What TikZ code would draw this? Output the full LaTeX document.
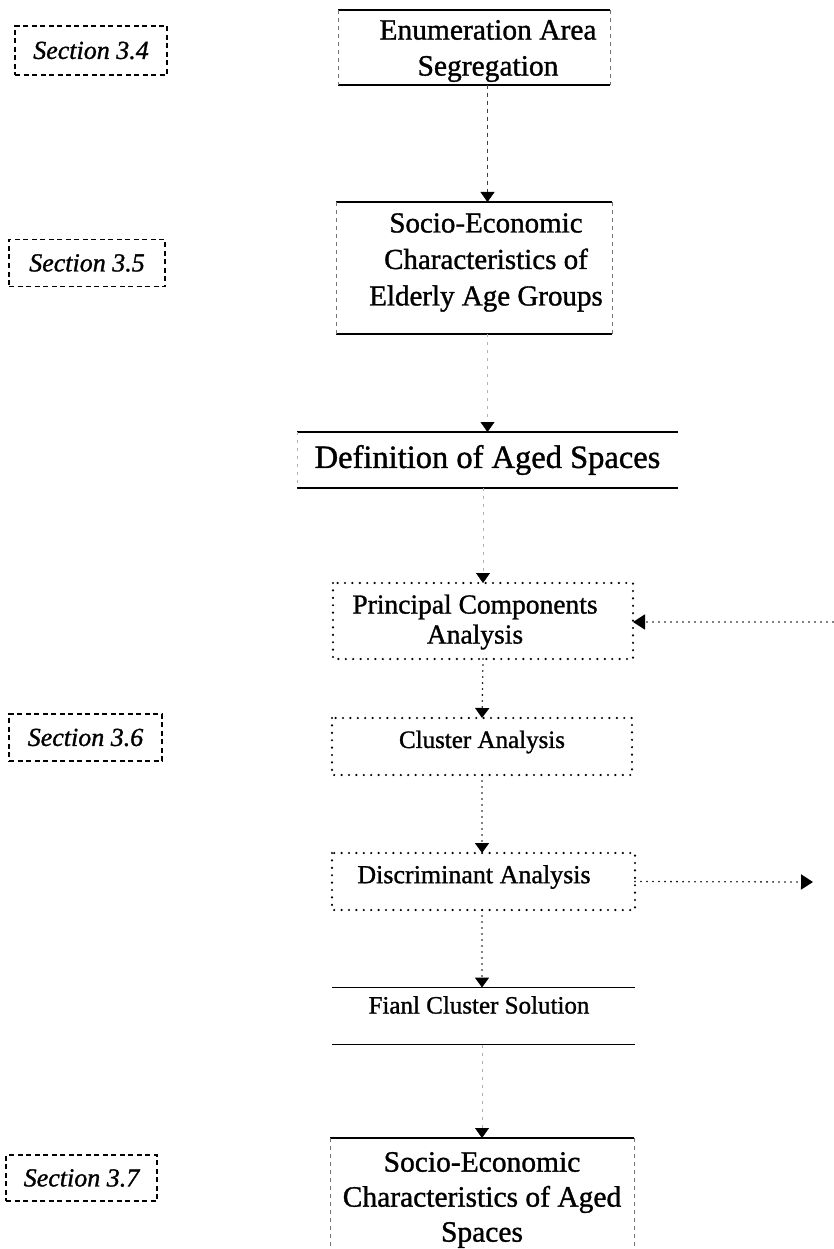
\documentclass[tikz,border=0pt]{standalone}
\usepackage{fontspec}
\setmainfont{Liberation Serif}[FakeBold=1.1]
\usetikzlibrary{arrows.meta}
\begin{document}
\begin{tikzpicture}[x=1pt,y=-1pt,
  shape box/.style={draw=none, inner sep=0pt, outer sep=0pt},
  txt/.style={inner sep=0pt, align=center, text=black},
  solidedge/.style={line width=1.4pt, black},
  faintside/.style={line width=0.5pt, black!55, dash pattern=on 4pt off 4pt},
  veryfaint/.style={line width=0.4pt, black!30, dash pattern=on 3pt off 5pt},
  dotbox/.style={line width=2.4pt, line cap=round, dash pattern=on 0pt off 7.4pt},
  dotline/.style={line width=1.8pt, line cap=round, dash pattern=on 0pt off 6pt},
  secbox/.style={draw, line width=1.5pt, dash pattern=on 5pt off 3.5pt, inner sep=0pt,
    font=\fontsize{26}{30}\selectfont\itshape},
  tip/.style={-{Triangle[length=10pt,width=14pt,color=black]}},
  tipdot/.style={-{Triangle[length=12pt,width=15pt,color=black]}},
]
\useasboundingbox (0,0) rectangle (833,1249);
\fill[white] (0,0) rectangle (833,1249);

% section labels
\node[secbox, minimum width=152, minimum height=49] (s34) at (91,50.5) {Section 3.4};
\node[secbox, minimum width=156, minimum height=47] (s35) at (87,263) {Section 3.5};
\node[secbox, minimum width=153, minimum height=47] (s36) at (85.5,737.5) {Section 3.6};
\node[secbox, minimum width=151, minimum height=46] (s37) at (81.5,1178) {Section 3.7};

% boxes (shapes)
\node[shape box, minimum width=272, minimum height=75] (enum) at (474,47.5) {};
\node[shape box, minimum width=276, minimum height=132] (socio) at (474,268) {};
\node[shape box, minimum width=381, minimum height=56] (def) at (487.5,460) {};
\node[shape box, minimum width=300, minimum height=76] (pca) at (483,621) {};
\node[shape box, minimum width=300, minimum height=57] (clus) at (482,746.5) {};
\node[shape box, minimum width=303, minimum height=57] (disc) at (483.5,881.5) {};
\node[shape box, minimum width=303, minimum height=57] (final) at (483.5,1016) {};
\node[shape box, minimum width=304, minimum height=140] (last) at (482,1208) {};

% texts
\node[txt, font=\fontsize{29.5}{36}\selectfont] (enumT) at (488,51) {Enumeration Area\\Segregation};
\node[txt, font=\fontsize{29}{36.5}\selectfont] (socioT) at (486,262.5) {Socio-Economic\\Characteristics of\\Elderly Age Groups};
\node[txt, font=\fontsize{32.5}{36}\selectfont] (defT) at (487.5,460) {Definition of Aged Spaces};
\node[txt, font=\fontsize{27.5}{30}\selectfont] (pcaT) at (475,622) {Principal Components\\Analysis};
\node[txt, font=\fontsize{25}{30}\selectfont] (clusT) at (482,742) {Cluster Analysis};
\node[txt, font=\fontsize{26}{30}\selectfont] (discT) at (474,877) {Discriminant Analysis};
\node[txt, font=\fontsize{25}{30}\selectfont] (finalT) at (479,1005) {Fianl Cluster Solution};
\node[txt, font=\fontsize{29.5}{35}\selectfont] (lastT) at (482,1200) {Socio-Economic\\Characteristics of Aged\\Spaces};

% box borders
\draw[solidedge] (enum.north west) -- (enum.north east);
\draw[solidedge] (enum.south west) -- (enum.south east);
\draw[faintside] (enum.north west) -- (enum.south west);
\draw[faintside] (enum.north east) -- (enum.south east);

\draw[solidedge] (socio.north west) -- (socio.north east);
\draw[solidedge] (socio.south west) -- (socio.south east);
\draw[faintside] (socio.north west) -- (socio.south west);
\draw[faintside] (socio.north east) -- (socio.south east);

\draw[solidedge] (def.north west) -- (def.north east);
\draw[solidedge] (def.south west) -- (def.south east);
\draw[veryfaint] (def.north west) -- (def.south west);

\draw[dotbox] (pca.north west) rectangle (pca.south east);
\draw[dotbox] (clus.north west) rectangle (clus.south east);
\draw[dotbox] (disc.north west) rectangle (disc.south east);

\draw[solidedge] (final.north west) -- (final.north east);
\draw[solidedge] (final.south west) -- (final.south east);

\draw[solidedge] (last.north west) -- (last.north east);
\draw[faintside] (last.north west) -- (last.south west);
\draw[faintside] (last.north east) -- (last.south east);

% connectors
\coordinate (pcaIn) at (833,622);
\coordinate (discOut) at (813,882);
\draw[faintside, black!75, tip] (enum.south -| def.north) -- (socio.north -| def.north);
\draw[veryfaint, tip] (socio.south -| def.north) -- (def.north);
\draw[veryfaint, tip] (pca.north |- def.south) -- (pca.north);
\draw[dotline, tip] (pca.south) -- (clus.north);
\draw[dotline, tip] (clus.south) -- (clus.north |- disc.north);
\draw[dotline, tip] (clus.south |- disc.south) -- (clus.south |- final.north);
\draw[veryfaint, tip] (clus.south |- final.south) -- (clus.south |- last.north);
\draw[dotline, tipdot] (pcaIn) -- (pca.east |- pcaIn);
\draw[dotline, tipdot] (disc.east) -- (discOut);
\end{tikzpicture}
\end{document}
